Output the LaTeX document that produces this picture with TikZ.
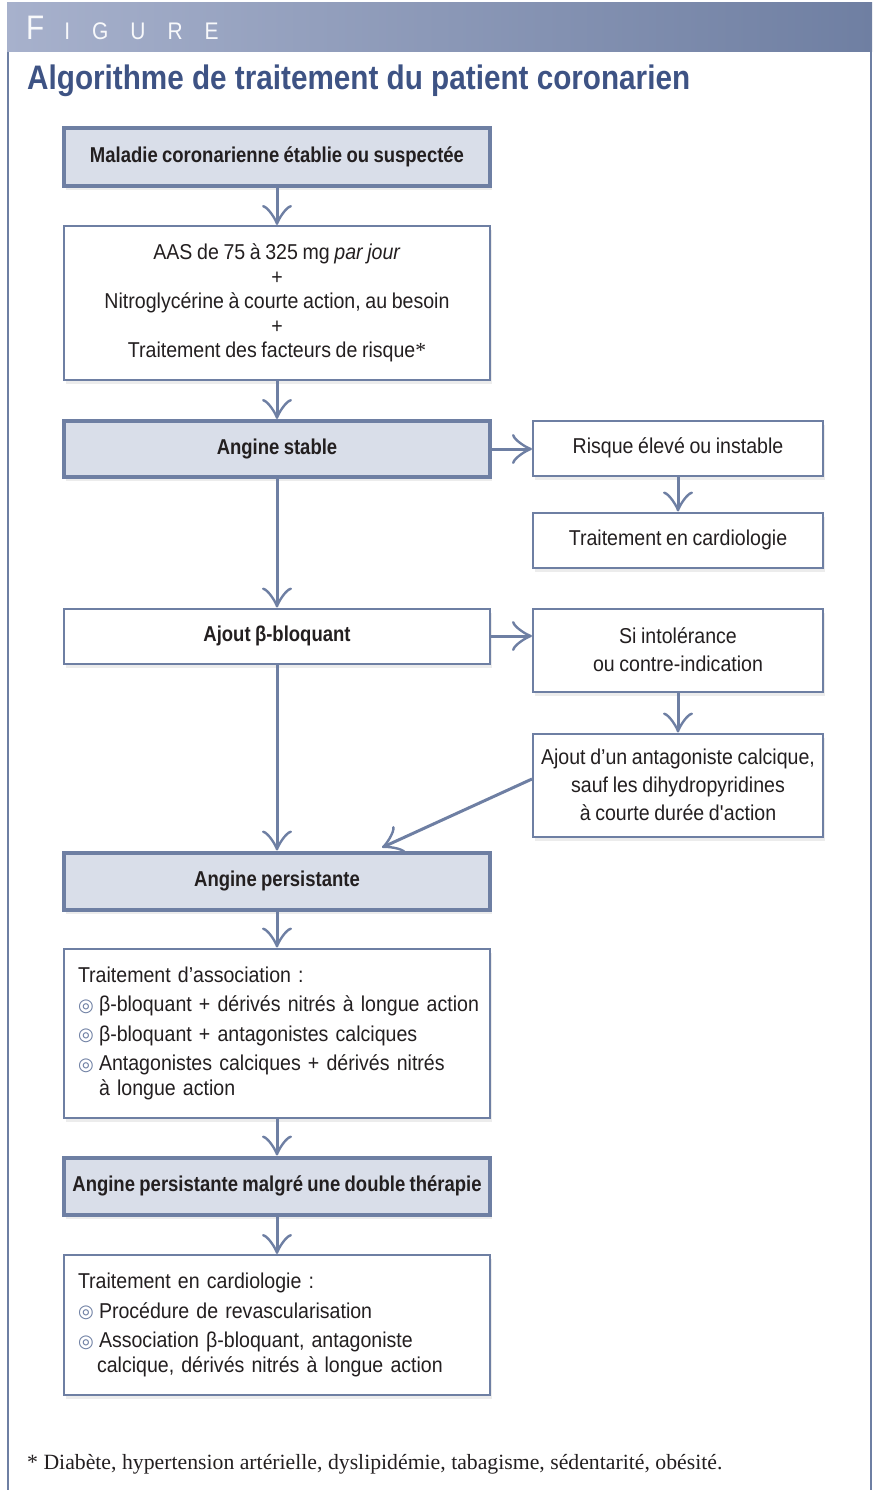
\documentclass[tikz,border=0pt]{standalone}
\usepackage{fontspec}
\setmainfont{Liberation Sans}[
  WordSpace=0.85,
  UprightFeatures={FakeStretch=0.91},
  ItalicFeatures={FakeStretch=0.91},
  BoldFeatures={FakeStretch=0.86}]
\newfontfamily\fonttitre{Liberation Sans}[FakeStretch=0.873]
\newfontfamily\fontnote{Liberation Serif}
\newfontfamily\fontpuce{DejaVu Sans}
\usetikzlibrary{arrows.meta}
\usetikzlibrary{shadows}

\definecolor{bleutrait}{HTML}{6E7FA3}
\definecolor{bleufond}{HTML}{D9DEE9}
\definecolor{bleutitre}{HTML}{3E5384}
\definecolor{bandeclair}{HTML}{A7B1CC}
\definecolor{bandefonce}{HTML}{6F7FA2}
\definecolor{texte}{HTML}{231F20}

% Puce des listes
\newcommand{\puce}{\makebox[21pt][l]{\raisebox{0.5pt}{\textcolor{bleutrait}{\fontpuce\fontsize{18}{18}\selectfont ◎}}}}

\begin{document}
\begin{tikzpicture}[x=1pt,y=-1pt]

    % Largeur des colonnes (gauche et droite)
    \def\lg{426pt}
    \def\ld{290pt}

    % Corps du texte
    \def\corps{\fontsize{21.5}{24.5}\selectfont}

    % Boite simple
    \tikzstyle{boite} = [
      draw=bleutrait, fill=white, rectangle, line width=2pt,
      inner sep=0pt, text=texte, align=center, font=\corps,
      drop shadow={shadow xshift=2pt, shadow yshift=-4pt, opacity=0.15}
    ];

    % Boite d'etape (fond bleute, trait epais)
    \tikzstyle{etape} = [
      boite, fill=bleufond, line width=4pt, font=\bfseries\corps
    ];

    % Fleche
    \tikzstyle{fleche} = [
      draw=bleutrait, line width=3pt,
      -{Classical TikZ Rightarrow[length=20pt,width=30pt]}
    ];

    \useasboundingbox (0,0) rectangle (873,1490);

    % Bandeau et cadre
    \shade[left color=bandeclair, right color=bandefonce] (7,3) rectangle (872,52);
    \draw[bleutrait, line width=2pt] (8,52) -- (8,1490);
    \draw[bleutrait, line width=2pt] (871,52) -- (871,1490);

    \node[anchor=base west, inner sep=0pt, text=white!92!bandeclair, font=\fonttitre]
      (entete) at (26,40) {\fontsize{34}{34}\selectfont F\hspace{20pt}\fontsize{24}{24}\selectfont I\hspace{22pt}G\hspace{22pt}U\hspace{22pt}R\hspace{22pt}E};

    % Titre
    \node[anchor=base west, inner sep=0pt, text=bleutitre, font=\fonttitre\bfseries\fontsize{34}{34}\selectfont]
      (titre) at (27,90) {Algorithme de traitement du patient coronarien};

    % Colonne de gauche
    \node[etape, minimum width=\lg, minimum height=58pt] (maladie) at (277,157)
      {Maladie coronarienne établie ou suspectée};

    \node[boite, minimum width=\lg, minimum height=154pt] (aas) at (277,303)
      {AAS de 75 à 325 mg \textit{par jour}\\ +\\ Nitroglycérine à courte action, au besoin\\ +\\ Traitement des facteurs de risque{\fontnote *}};

    \node[etape, minimum width=\lg, minimum height=56pt] (stable) at (277,449)
      {Angine stable};

    \node[boite, font=\bfseries\corps, minimum width=\lg, minimum height=55pt] (betabloq) at (277,636)
      {Ajout β-bloquant};

    \node[etape, minimum width=\lg, minimum height=57pt] (persist) at (277,881)
      {Angine persistante};

    \node[boite, minimum width=\lg, minimum height=169pt, text width=398pt, align=left] (association) at (277,1033)
      {Traitement d’association :\\[5pt]
       \mbox{\puce β-bloquant + dérivés nitrés à longue action}\\[5pt]
       \mbox{\puce β-bloquant + antagonistes calciques}\\[5pt]
       \mbox{\puce Antagonistes calciques + dérivés nitrés}\\
       \hspace*{21pt}à longue action};

    \node[etape, minimum width=\lg, minimum height=57pt] (double) at (277,1186)
      {Angine persistante malgré une double thérapie};

    \node[boite, minimum width=\lg, minimum height=140pt, text width=398pt, align=left] (cardiospec) at (277,1325)
      {Traitement en cardiologie :\\[5pt]
       \mbox{\puce Procédure de revascularisation}\\[5pt]
       \mbox{\puce Association β-bloquant, antagoniste}\\
       \mbox{\hspace*{19pt}calcique, dérivés nitrés à longue action}};

    % Colonne de droite
    \node[boite, minimum width=\ld, minimum height=55pt] (risque) at (678,448)
      {Risque élevé ou instable};

    \node[boite, minimum width=\ld, minimum height=55pt] (cardio) at (678,540)
      {Traitement en cardiologie};

    \node[boite, font=\fontsize{21.5}{28}\selectfont, minimum width=\ld, minimum height=83pt] (intol) at (678,650)
      {Si intolérance\\ ou contre-indication};

    \node[boite, font=\fontsize{21.5}{28}\selectfont, minimum width=\ld, minimum height=103pt] (antagon) at (678,785)
      {Ajout d’un antagoniste calcique,\\ sauf les dihydropyridines\\ à courte durée d\textquotesingle action};

    % Fleches
    \draw[fleche] (maladie) -- (aas);
    \draw[fleche] (aas) -- (stable);
    \draw[fleche] (stable.east) -- (stable.east -| risque.west);
    \draw[fleche] (risque) -- (cardio);
    \draw[fleche] (stable) -- (betabloq);
    \draw[fleche] (betabloq.east) -- (betabloq.east -| intol.west);
    \draw[fleche] (intol) -- (antagon);
    \draw[fleche] (betabloq) -- (persist);
    \draw[fleche] ([yshift=6pt]antagon.west) -- ([xshift=105pt,yshift=3pt]persist.north);
    \draw[fleche] (persist) -- (association);
    \draw[fleche] (association) -- (double);
    \draw[fleche] (double) -- (cardiospec);

    % Note
    \node[anchor=base west, inner sep=0pt, text=texte, font=\fontnote\fontsize{21.75}{21.75}\selectfont]
      (note) at (27,1469) {* Diabète, hypertension artérielle, dyslipidémie, tabagisme, sédentarité, obésité.};

\end{tikzpicture}
\end{document}
